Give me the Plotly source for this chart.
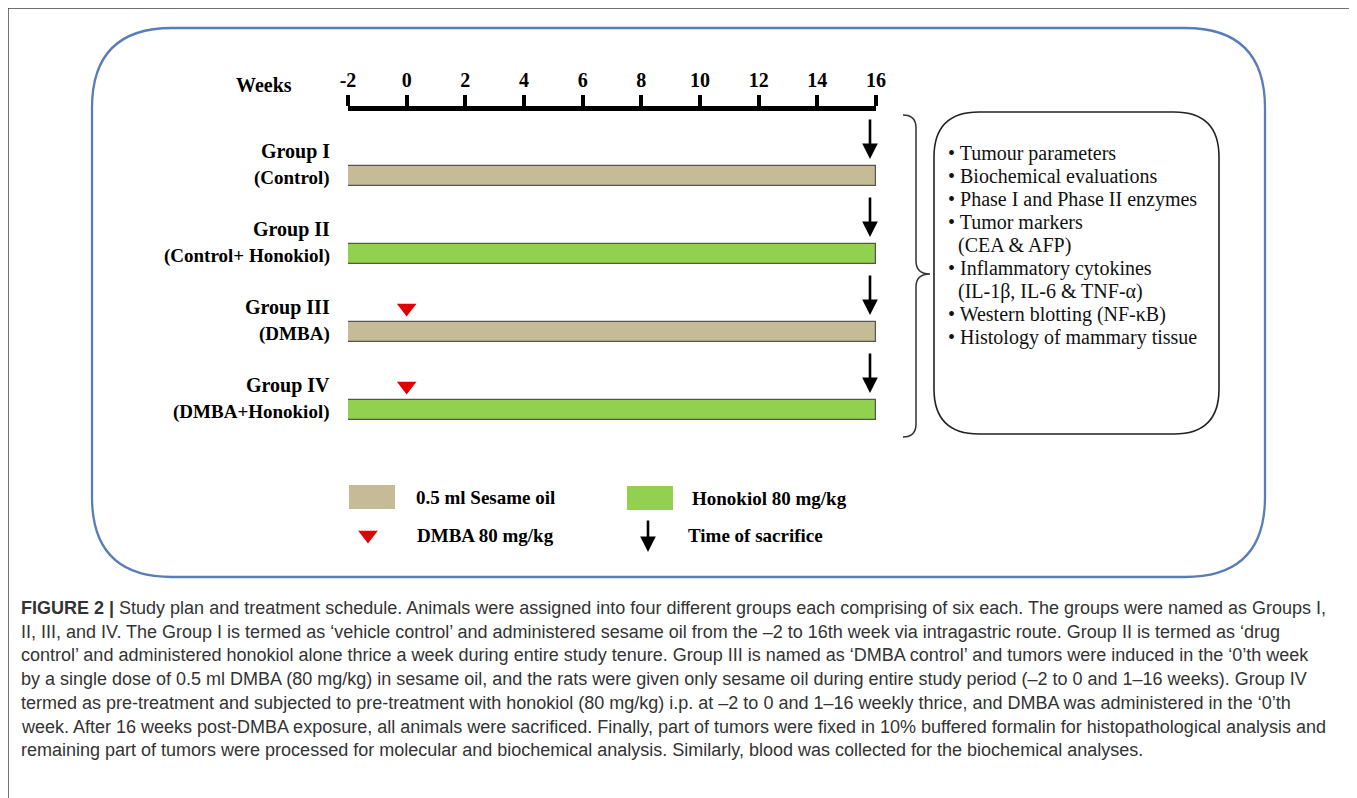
import plotly.graph_objects as go

# ---------------- data ----------------
week_ticks = [-2, 0, 2, 4, 6, 8, 10, 12, 14, 16]
groups = ["Group I", "Group II", "Group III", "Group IV"]
group_sub = ["(Control)", "(Control+ Honokiol)", "(DMBA)", "(DMBA+Honokiol)"]
treatment = ["0.5 ml Sesame oil", "Honokiol 80 mg/kg", "0.5 ml Sesame oil", "Honokiol 80 mg/kg"]
start_week = [-2, -2, -2, -2]
end_week = [16, 16, 16, 16]
dmba_week = [None, None, 0, 0]
sacrifice_week = [16, 16, 16, 16]
outcomes = [
    "• Tumour parameters",
    "• Biochemical evaluations",
    "• Phase I and Phase II enzymes",
    "• Tumor markers",
    "\u00a0\u00a0(CEA & AFP)",
    "• Inflammatory cytokines",
    "\u00a0\u00a0(IL-1β, IL-6 & TNF-α)",
    "• Western blotting (NF-κB)",
    "• Histology of mammary tissue",
]
legend_labels = ["0.5 ml Sesame oil", "Honokiol 80 mg/kg", "DMBA 80 mg/kg", "Time of sacrifice"]
caption_lines = [
    "<b>FIGURE 2 |</b> Study plan and treatment schedule. Animals were assigned into four different groups each comprising of six each. The groups were named as Groups I,",
    "II, III, and IV. The Group I is termed as ‘vehicle control’ and administered sesame oil from the –2 to 16th week via intragastric route. Group II is termed as ‘drug",
    "control’ and administered honokiol alone thrice a week during entire study tenure. Group III is named as ‘DMBA control’ and tumors were induced in the ‘0’th week",
    "by a single dose of 0.5 ml DMBA (80 mg/kg) in sesame oil, and the rats were given only sesame oil during entire study period (–2 to 0 and 1–16 weeks). Group IV",
    "termed as pre-treatment and subjected to pre-treatment with honokiol (80 mg/kg) i.p. at –2 to 0 and 1–16 weekly thrice, and DMBA was administered in the ‘0’th",
    "week. After 16 weeks post-DMBA exposure, all animals were sacrificed. Finally, part of tumors were fixed in 10% buffered formalin for histopathological analysis and",
    "remaining part of tumors were processed for molecular and biochemical analysis. Similarly, blood was collected for the biochemical analyses.",
]

# ---------------- styles ----------------
W, H = 1357, 798
OFF = 8  # page (body) margin offset
SERIF = "Liberation Serif"
SANS = "Liberation Sans"
colors = {"0.5 ml Sesame oil": "#C5BB97", "Honokiol 80 mg/kg": "#92D050"}
RED = "#E00000"
BLUE = "#5A7DB9"

row_y = [176 + 78 * i for i in range(len(groups))]
bar_h = 20

fig = go.Figure()

# bars
fig.add_trace(go.Bar(
    orientation="h",
    base=start_week,
    x=[e - s for s, e in zip(start_week, end_week)],
    y=row_y,
    width=bar_h,
    marker=dict(color=[colors[t] for t in treatment], line=dict(color="#555555", width=1.2)),
    xaxis="x2", yaxis="y",
    hoverinfo="skip", showlegend=False,
))

# DMBA triangles
tx = [w for w in dmba_week if w is not None]
ty = [y - 24 for y, w in zip(row_y, dmba_week) if w is not None]
fig.add_trace(go.Scatter(
    x=tx, y=ty, mode="markers",
    marker=dict(symbol="triangle-down", size=17, color=RED, line=dict(width=0)),
    xaxis="x2", yaxis="y", hoverinfo="skip", showlegend=False,
))

annotations = []
shapes = []

# sacrifice arrows
for y, w in zip(row_y, sacrifice_week):
    annotations.append(dict(
        x=w, y=y - 17, ax=w, ay=y - 58, xref="x2", yref="y", axref="x2", ayref="y",
        xshift=-6, text="", showarrow=True, arrowhead=2, arrowsize=1.2, arrowwidth=2.6,
        arrowcolor="black",
    ))

# group labels
for g, s, y in zip(groups, group_sub, row_y):
    annotations.append(dict(x=332, y=y - 25, xref="x", yref="y", text=f"<b>{g}</b>",
                            showarrow=False, xanchor="right", yanchor="middle",
                            font=dict(family=SERIF, size=20, color="black")))
    annotations.append(dict(x=332, y=y + 2, xref="x", yref="y", text=f"<b>{s}</b>",
                            showarrow=False, xanchor="right", yanchor="middle",
                            font=dict(family=SERIF, size=19, color="black")))

# "Weeks" label
annotations.append(dict(x=294, y=85, xref="x", yref="y", text="<b>Weeks</b>", showarrow=False,
                        xanchor="right", yanchor="middle",
                        font=dict(family=SERIF, size=20, color="black")))

# outcome box texts
for i, t in enumerate(outcomes):
    annotations.append(dict(x=946, y=153 + 23 * i, xref="x", yref="y", text=t, showarrow=False,
                            xanchor="left", yanchor="middle",
                            font=dict(family=SERIF, size=20, color="#111111")))

# legend
leg_pos = [(349, 497), (627, 498), (368, 535), (648, 535)]
leg_text_x = [414, 690, 415, 686]
for (lx, ly), lab in zip(leg_pos[:2], legend_labels[:2]):
    shapes.append(dict(type="rect", xref="x", yref="y", x0=lx, x1=lx + 46, y0=ly - 12, y1=ly + 12,
                       fillcolor=colors[lab], line=dict(width=0)))
fig.add_trace(go.Scatter(
    x=[leg_pos[2][0]], y=[leg_pos[2][1]], mode="markers",
    marker=dict(symbol="triangle-down", size=17, color=RED, line=dict(width=0)),
    xaxis="x", yaxis="y", hoverinfo="skip", showlegend=False,
))
annotations.append(dict(x=leg_pos[3][0], y=leg_pos[3][1] + 17, ax=leg_pos[3][0], ay=leg_pos[3][1] - 16,
                        xref="x", yref="y", axref="x", ayref="y", text="", showarrow=True,
                        arrowhead=2, arrowsize=1.2, arrowwidth=2.6, arrowcolor="black"))
for (lx, ly), tx_, lab in zip(leg_pos, leg_text_x, legend_labels):
    annotations.append(dict(x=tx_, y=ly, xref="x", yref="y", text=f"<b>{lab}</b>", showarrow=False,
                            xanchor="left", yanchor="middle",
                            font=dict(family=SERIF, size=19, color="black")))

# caption
for i, line in enumerate(caption_lines):
    annotations.append(dict(x=19, y=608 + 23.7 * i, xref="x", yref="y", text=line, showarrow=False,
                            xanchor="left", yanchor="middle",
                            font=dict(family=SANS, size=18, color="#333333")))


def rounded(x0, y0, x1, y1, r):
    return (f"M {x0 + r} {y0} L {x1 - r} {y0} Q {x1} {y0} {x1} {y0 + r} "
            f"L {x1} {y1 - r} Q {x1} {y1} {x1 - r} {y1} L {x0 + r} {y1} "
            f"Q {x0} {y1} {x0} {y1 - r} L {x0} {y0 + r} Q {x0} {y0} {x0 + r} {y0} Z")


# outer frame
shapes.append(dict(type="rect", xref="x", yref="y", x0=8, y0=8, x1=1355, y1=830,
                   line=dict(color="#444444", width=1.5)))
# blue rounded frame
shapes.append(dict(type="path", xref="x", yref="y", path=rounded(92, 28, 1265, 577, 80),
                   line=dict(color=BLUE, width=2.3)))
# outcomes box
shapes.append(dict(type="path", xref="x", yref="y", path=rounded(934, 112, 1219, 434, 45),
                   line=dict(color="#222222", width=1.6)))
# brace
shapes.append(dict(type="path", xref="x", yref="y",
                   path="M 903 115 Q 916 115 916 128 L 916 261 Q 916 274 930 274 "
                        "Q 916 274 916 287 L 916 424 Q 916 437 903 437",
                   line=dict(color="#333333", width=1.5)))

fig.update_layout(
    width=W, height=H,
    margin=dict(l=0, r=0, t=0, b=0, autoexpand=False),
    paper_bgcolor="white", plot_bgcolor="rgba(0,0,0,0)",
    showlegend=False,
    xaxis=dict(range=[OFF, W + OFF], visible=False, domain=[0, 1], fixedrange=True),
    yaxis=dict(range=[H + OFF, OFF], visible=False, domain=[0, 1], fixedrange=True),
    xaxis2=dict(
        domain=[(348 - OFF) / W, (876 - OFF) / W], range=[-2, 16], anchor="free",
        position=1 - (108 - OFF) / H,
        side="top", showline=True, linewidth=5, linecolor="black",
        ticks="outside", ticklen=11, tickwidth=4, tickcolor="black",
        tickvals=week_ticks, ticktext=[f"<b>{t}</b>" for t in week_ticks],
        tickfont=dict(family=SERIF, size=20, color="black"),
        showgrid=False, zeroline=False, fixedrange=True, automargin=False,
    ),
    annotations=annotations,
    shapes=shapes,
    bargap=0,
)

fig.write_html("out.html", config={"displayModeBar": False})
